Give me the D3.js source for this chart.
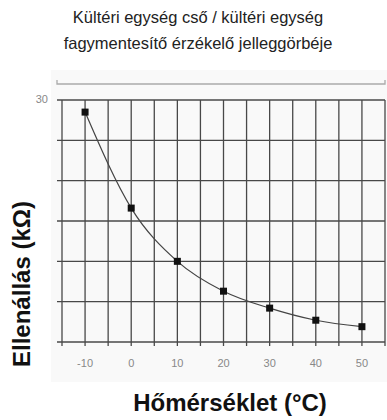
<!DOCTYPE html>
<html>
<head>
<meta charset="utf-8">
<script src="https://cdn.jsdelivr.net/npm/d3@7"></script>
<style>
  body { margin: 0; background: #fff; }
  text { font-family: "Liberation Sans", Arial, sans-serif; }
</style>
</head>
<body>
<div id="chart"></div>
<script>
// data
const temps = [-10, 0, 10, 20, 30, 40, 50]
const resist = [28.5, 16.6, 10.0, 6.3, 4.2, 2.7, 1.9]
const xTickLabels = [-10, 0, 10, 20, 30, 40, 50]
const yTickLabels = [30]
const titleLines = ["Kültéri egység cső / kültéri egység", "fagymentesítő érzékelő jelleggörbéje"]

const W = 387, H = 420

const svg = d3.select("#chart").append("svg")
    .attr("width", W)
    .attr("height", H)

// scales
const x = d3.scaleLinear().domain([-15, 55]).range([62, 385])
const y = d3.scaleLinear().domain([0, 30]).range([342, 100])

// faint panel behind the plot
svg.append("rect")
    .attr("x", 51).attr("y", 70)
    .attr("width", W - 51).attr("height", 312)
    .attr("fill", "#f9f9f9")

// title
svg.selectAll(".title")
    .data(titleLines)
    .join("text")
    .attr("class", "title")
    .attr("x", 198)
    .attr("y", (d, i) => 23 + i * 26)
    .attr("text-anchor", "middle")
    .style("font-size", "16.5px")
    .style("fill", "#222")
    .text(d => d)

// top bracket line
svg.append("path")
    .attr("d", `M${x(-15) - 5},80 V84 H${x(55)} V80`)
    .attr("fill", "none")
    .attr("stroke", "#aaa")
    .attr("stroke-width", 1.3)

// grid
const xLines = d3.range(-15, 56, 5)
const yLines = d3.range(0, 31, 5)

svg.append("g").selectAll("line")
    .data(xLines)
    .join("line")
    .attr("x1", d => x(d)).attr("x2", d => x(d))
    .attr("y1", y(30)).attr("y2", y(0) + 4)
    .attr("stroke", "#484848")
    .attr("stroke-width", 1.3)

svg.append("g").selectAll("line")
    .data(yLines)
    .join("line")
    .attr("x1", x(-15) - 5).attr("x2", x(55))
    .attr("y1", d => y(d)).attr("y2", d => y(d))
    .attr("stroke", "#484848")
    .attr("stroke-width", 1.3)

// tick labels
svg.append("g").selectAll("text")
    .data(xTickLabels)
    .join("text")
    .attr("x", d => x(d))
    .attr("y", 367)
    .attr("text-anchor", "middle")
    .style("font-size", "11px")
    .style("fill", "#888")
    .text(d => d)

svg.append("g").selectAll("text")
    .data(yTickLabels)
    .join("text")
    .attr("x", 48)
    .attr("y", d => y(d) + 3)
    .attr("text-anchor", "end")
    .style("font-size", "11px")
    .style("fill", "#888")
    .text(d => d)

// curve
const pts = temps.map((t, i) => [t, resist[i]])

svg.append("path")
    .datum(pts)
    .attr("d", d3.line()
        .x(d => x(d[0]))
        .y(d => y(d[1]))
        .curve(d3.curveMonotoneX))
    .attr("fill", "none")
    .attr("stroke", "#444")
    .attr("stroke-width", 1.2)

svg.append("g").selectAll("rect")
    .data(pts)
    .join("rect")
    .attr("x", d => x(d[0]) - 3.5)
    .attr("y", d => y(d[1]) - 3.5)
    .attr("width", 7).attr("height", 7)
    .attr("fill", "#111")

// axis titles
svg.append("text")
    .attr("x", 230)
    .attr("y", 411)
    .attr("text-anchor", "middle")
    .style("font-size", "24px")
    .style("font-weight", "bold")
    .style("fill", "#111")
    .text("Hőmérséklet (°C)")

svg.append("text")
    .attr("transform", "translate(30,284) rotate(-90)")
    .attr("text-anchor", "middle")
    .style("font-size", "24px")
    .style("font-weight", "bold")
    .style("fill", "#111")
    .text("Ellenállás (kΩ)")
</script>
</body>
</html>
